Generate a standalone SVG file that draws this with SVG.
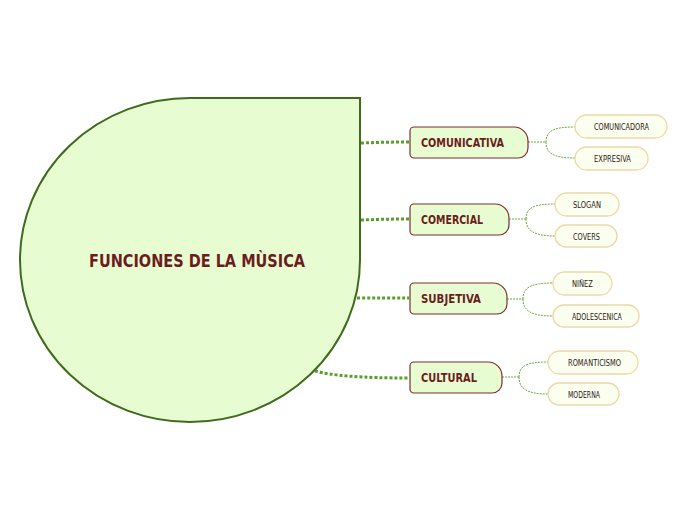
<svg xmlns="http://www.w3.org/2000/svg" width="696" height="520" viewBox="0 0 696 520">
<style>
.main{fill:#e8fcd2;stroke:#3f6b1e;stroke-width:2}
.child{fill:#e8fcd2;stroke:#7a2f2f;stroke-width:1.2}
.leaf{fill:#fafff0;stroke:#eed8a6;stroke-width:1.3}
.big{stroke:#5a9e2a;stroke-width:3;fill:none;stroke-dasharray:3 2}
.thin{stroke:#6aab3c;stroke-width:1;fill:none;stroke-dasharray:2 1}
.t1{font-family:"DejaVu Sans","Liberation Sans",sans-serif;font-weight:bold;fill:#6b1d1d}
.t2{font-family:"DejaVu Sans","Liberation Sans",sans-serif;font-weight:bold;fill:#6b1d1d;font-size:12px}
.t3{font-family:"DejaVu Sans","Liberation Sans",sans-serif;fill:#2e1616;font-size:9.5px}
</style>
<rect width="696" height="520" fill="#ffffff"/>
<g id="connectors">
<path class="big" d="M361,143 Q385,142 409,142"/>
<path class="big" d="M361,220 Q385,219 409,219"/>
<path class="big" d="M357,298 Q385,298 409,298"/>
<path class="big" d="M315,371 Q340,378 409,378"/>
<path class="thin" d="M528,142 L546,142 M546,142 C546,131 553,127 575,127 M546,142 C546,153 553,158 575,158"/>
<path class="thin" d="M509,219 L526,219 M526,219 C526,208 533,204 555,204 M526,219 C526,230 533,236 555,236"/>
<path class="thin" d="M507,299 L523,299 M523,299 C523,288 530,283 553,283 M523,299 C523,310 530,316 553,316"/>
<path class="thin" d="M502,377 L519,377 M519,377 C519,366 526,362 548,362 M519,377 C519,388 526,394 548,394"/>
</g>
<g id="main">
<path class="main" d="M190,98 L360,98 L360,260 A170,162 0 0 1 190,422 A170,162 0 0 1 20,260 A170,162 0 0 1 190,98 Z"/>
<text class="t1" x="89" y="267" font-size="17" textLength="216" lengthAdjust="spacingAndGlyphs">FUNCIONES DE LA MÙSICA</text>
</g>
<g id="comunicativa">
<path class="child" d="M414,127 H514 A14,14 0 0 1 528,141 V148 A10,10 0 0 1 518,158 H414 A4,4 0 0 1 410,154 V131 A4,4 0 0 1 414,127 Z"/>
<text class="t2" x="421" y="147" textLength="83" lengthAdjust="spacingAndGlyphs">COMUNICATIVA</text>
</g>
<g id="comercial">
<path class="child" d="M414,204 H495 A14,14 0 0 1 509,218 V225 A10,10 0 0 1 499,235 H414 A4,4 0 0 1 410,231 V208 A4,4 0 0 1 414,204 Z"/>
<text class="t2" x="421" y="224" textLength="62" lengthAdjust="spacingAndGlyphs">COMERCIAL</text>
</g>
<g id="subjetiva">
<path class="child" d="M414,283 H493 A14,14 0 0 1 507,297 V304 A10,10 0 0 1 497,314 H414 A4,4 0 0 1 410,310 V287 A4,4 0 0 1 414,283 Z"/>
<text class="t2" x="421" y="303" textLength="60" lengthAdjust="spacingAndGlyphs">SUBJETIVA</text>
</g>
<g id="cultural">
<path class="child" d="M414,362 H488 A14,14 0 0 1 502,376 V383 A10,10 0 0 1 492,393 H414 A4,4 0 0 1 410,389 V366 A4,4 0 0 1 414,362 Z"/>
<text class="t2" x="421" y="382" textLength="56" lengthAdjust="spacingAndGlyphs">CULTURAL</text>
</g>
<g id="comunicadora">
<rect class="leaf" x="575" y="115" width="92" height="23" rx="11.5"/>
<text class="t3" x="594" y="130" textLength="55" lengthAdjust="spacingAndGlyphs">COMUNICADORA</text>
</g>
<g id="expresiva">
<rect class="leaf" x="575" y="147" width="73" height="23" rx="11.5"/>
<text class="t3" x="594" y="162" textLength="37" lengthAdjust="spacingAndGlyphs">EXPRESIVA</text>
</g>
<g id="slogan">
<rect class="leaf" x="555" y="193" width="64" height="23" rx="11.5"/>
<text class="t3" x="573" y="208" textLength="28" lengthAdjust="spacingAndGlyphs">SLOGAN</text>
</g>
<g id="covers">
<rect class="leaf" x="555" y="225" width="62" height="22" rx="11"/>
<text class="t3" x="573" y="240" textLength="27" lengthAdjust="spacingAndGlyphs">COVERS</text>
</g>
<g id="ninez">
<rect class="leaf" x="553" y="272" width="59" height="23" rx="11.5"/>
<text class="t3" x="572" y="287" textLength="21" lengthAdjust="spacingAndGlyphs">NIÑEZ</text>
</g>
<g id="adolescenica">
<rect class="leaf" x="553" y="305" width="86" height="22" rx="11"/>
<text class="t3" x="572" y="320" textLength="50" lengthAdjust="spacingAndGlyphs">ADOLESCENICA</text>
</g>
<g id="romanticismo">
<rect class="leaf" x="548" y="351" width="90" height="23" rx="11.5"/>
<text class="t3" x="568" y="366" textLength="53" lengthAdjust="spacingAndGlyphs">ROMANTICISMO</text>
</g>
<g id="moderna">
<rect class="leaf" x="548" y="383" width="71" height="22" rx="11"/>
<text class="t3" x="568" y="398" textLength="32" lengthAdjust="spacingAndGlyphs">MODERNA</text>
</g>
</svg>
